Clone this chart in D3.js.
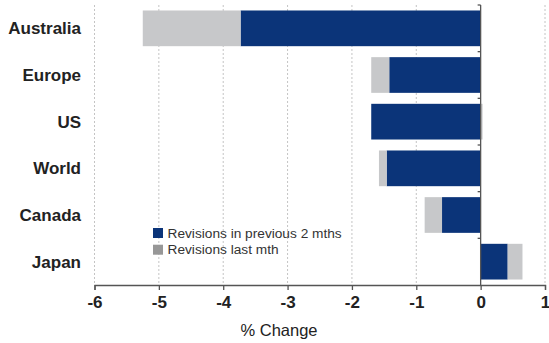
<!DOCTYPE html>
<html>
<head>
<meta charset="utf-8">
<script src="https://cdn.jsdelivr.net/npm/d3@7"></script>
<style>
  html, body { margin: 0; padding: 0; background: #fff; }
  svg { display: block; font-family: "Liberation Sans", Arial, sans-serif; }
</style>
</head>
<body>
<svg id="chart" width="549" height="343"></svg>
<script>
// Regions, top to bottom
const regions = ["Australia", "Europe", "US", "World", "Canada", "Japan"];
// Revisions in previous 2 months (% change)
const prev2Months = [-3.73, -1.42, -1.70, -1.46, -0.60, 0.42];
// Revisions last month (% change)
const lastMonth = [-1.52, -0.28, 0.03, -0.12, -0.27, 0.23];
const xTicks = [-6, -5, -4, -3, -2, -1, 0, 1];
const seriesNames = ["Revisions in previous 2 mths", "Revisions last mth"];

const colors = { prev: "#0b3479", last: "#c7c8ca", lastKey: "#979797" };

const svg = d3.select("#chart");
const plot = { left: 94.5, right: 545, top: 5, bottom: 285 };

const x = d3.scaleLinear().domain([-6, 1]).range([plot.left, plot.right]);
const y = d3.scaleBand().domain(regions).range([plot.top, plot.bottom])
  .paddingInner(0.235).paddingOuter(0.1175);

const rows = regions.map((r, i) => ({ region: r, prev: prev2Months[i], last: lastMonth[i] }));
const stacked = d3.stack().keys(["prev", "last"]).offset(d3.stackOffsetDiverging)(rows);

// dotted vertical gridlines
svg.append("g").selectAll("line")
  .data(xTicks.filter(t => t !== 0))
  .join("line")
  .attr("x1", d => x(d)).attr("x2", d => x(d))
  .attr("y1", plot.top).attr("y2", plot.bottom)
  .attr("stroke", "#c4c4c4").attr("stroke-width", 1)
  .attr("stroke-dasharray", "2,2");

// stacked bars
svg.append("g").selectAll("g")
  .data(stacked)
  .join("g")
  .attr("fill", d => d.key === "prev" ? colors.prev : colors.last)
  .selectAll("rect")
  .data(d => d)
  .join("rect")
  .attr("x", d => x(Math.min(d[0], d[1])))
  .attr("width", d => Math.abs(x(d[1]) - x(d[0])))
  .attr("y", d => y(d.data.region))
  .attr("height", y.bandwidth());

// x axis
const xAxis = svg.append("g")
  .attr("transform", `translate(0,${plot.bottom})`)
  .call(d3.axisBottom(x).tickValues(xTicks).tickSize(5).tickPadding(6).tickFormat(d3.format("d")));
xAxis.select(".domain").attr("stroke", "#555").attr("stroke-width", 1.3);
xAxis.selectAll(".tick line").attr("stroke", "#555").attr("stroke-width", 1.3);
xAxis.selectAll(".tick text")
  .attr("font-size", 17).attr("font-weight", "bold").attr("fill", "#222")
  .text(d => d < 0 ? "-" + Math.abs(d) : d);

// zero axis with ticks between categories
const bounds = regions.map(r => y(r) - y.step() * y.paddingInner() / 2);
bounds[0] = plot.top;
svg.append("line")
  .attr("x1", x(0)).attr("x2", x(0)).attr("y1", plot.top).attr("y2", plot.bottom)
  .attr("stroke", "#555").attr("stroke-width", 1.3);
svg.append("g").selectAll("line")
  .data(bounds)
  .join("line")
  .attr("x1", x(0) - 3).attr("x2", x(0))
  .attr("y1", d => d).attr("y2", d => d)
  .attr("stroke", "#555").attr("stroke-width", 1.3);

// category labels
svg.append("g").selectAll("text")
  .data(regions)
  .join("text")
  .attr("x", 81)
  .attr("y", d => y(d) + y.bandwidth() / 2)
  .attr("dy", "0.35em")
  .attr("text-anchor", "end")
  .attr("font-size", 17).attr("font-weight", "bold").attr("fill", "#222")
  .text(d => d);

// axis title
svg.append("text")
  .attr("x", 279).attr("y", 336)
  .attr("text-anchor", "middle")
  .attr("font-size", 16.5).attr("fill", "#222")
  .text("% Change");

// legend
const legend = svg.append("g").attr("transform", "translate(153,228)");
const keyColors = [colors.prev, colors.lastKey];
seriesNames.forEach((name, i) => {
  const g = legend.append("g").attr("transform", `translate(0,${i * 16.7})`);
  g.append("rect").attr("width", 10).attr("height", 10).attr("fill", keyColors[i]);
  g.append("text").attr("x", 14.5).attr("y", 5).attr("dy", "0.35em")
    .attr("font-size", 13.7).attr("fill", "#333").text(name);
});
</script>
</body>
</html>
